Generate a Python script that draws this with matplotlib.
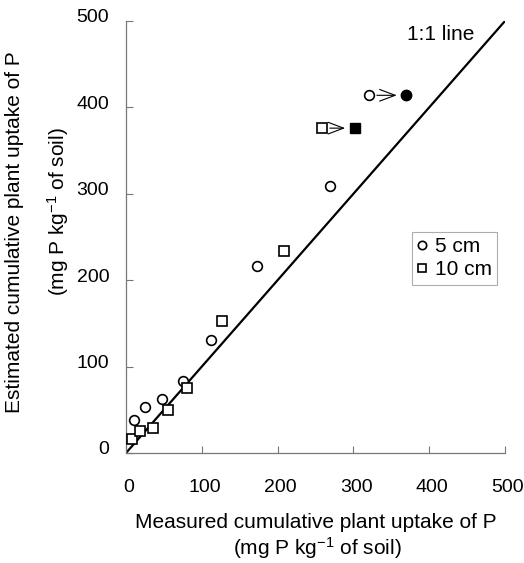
import matplotlib
matplotlib.use("Agg")
import matplotlib.pyplot as plt
from matplotlib.transforms import ScaledTranslation

plt.rcParams.update({
    "font.family": ["Liberation Sans", "DejaVu Sans"],
    "font.size": 14,
    "mathtext.fontset": "custom",
    "mathtext.rm": "Liberation Sans",
    "mathtext.default": "regular",
})

# data
cm5_x = [10, 25, 48, 75, 112, 173, 269, 320]
cm5_y = [38, 53, 63, 83, 131, 217, 309, 414]
cm10_x = [8, 19, 35, 55, 81, 126, 208, 258]
cm10_y = [16, 26, 29, 50, 75, 153, 234, 376]
cm5_moved = (370, 414)
cm10_moved = (302, 376)
one_to_one = [0, 500]
ticks = [0, 100, 200, 300, 400, 500]

W, H = 524, 563
fig = plt.figure(figsize=(W / 100, H / 100), dpi=100)
ax = fig.add_axes([126 / W, 1 - 453 / H, (505 - 126) / W, (453 - 21) / H])

ax.plot(one_to_one, one_to_one, color="black", linewidth=1.6, zorder=2)

ax.plot(cm5_x, cm5_y, linestyle="none", marker="o", markersize=7,
        markerfacecolor="white", markeredgecolor="black", markeredgewidth=1.2,
        label="5 cm", zorder=3)
ax.plot(cm10_x, cm10_y, linestyle="none", marker="s", markersize=7,
        markerfacecolor="white", markeredgecolor="black", markeredgewidth=1.2,
        label="10 cm", zorder=3)

ax.plot(*cm5_moved, marker="o", markersize=7.5, color="black", zorder=3)
ax.plot(*cm10_moved, marker="s", markersize=7, color="black", zorder=3)

# arrows from the open point to the filled one
for start, end in [((cm5_x[-1], cm5_y[-1]), cm5_moved),
                   ((cm10_x[-1], cm10_y[-1]), cm10_moved)]:
    ax.annotate("", xy=end, xytext=start,
                arrowprops=dict(arrowstyle="->,head_length=0.8,head_width=0.3",
                                color="black", linewidth=0.8,
                                shrinkA=6, shrinkB=7))

ax.text(415, 484, "1:1 line", ha="center", va="center", fontsize=15)

leg = ax.legend(loc="upper left", bbox_to_anchor=((412 - 126) / 379, (453 - 232) / 432),
                frameon=True, fancybox=False, edgecolor="#999999", fontsize=15,
                handlelength=0.5, handletextpad=0.35, borderpad=0.25,
                labelspacing=0.2, borderaxespad=0)
leg.get_frame().set_linewidth(0.8)
for h in leg.legend_handles:
    h.set_markersize(6)

ax.set_xlim(0, 500)
ax.set_ylim(0, 500)
ax.set_xticks(ticks)
ax.set_yticks(ticks)
ax.tick_params(direction="in", length=5, width=0.8, color="#777777", labelsize=14)
ax.tick_params(axis="x", pad=19)
ax.tick_params(axis="y", pad=12)
for lab in ax.get_yticklabels():
    lab.set_transform(lab.get_transform() + ScaledTranslation(0, 0.05, fig.dpi_scale_trans))
for lab in ax.get_xticklabels():
    lab.set_transform(lab.get_transform() + ScaledTranslation(0.03, 0, fig.dpi_scale_trans))
for side in ["top", "right"]:
    ax.spines[side].set_visible(False)
for side in ["left", "bottom"]:
    ax.spines[side].set_color("#777777")
    ax.spines[side].set_linewidth(0.9)

# axis titles placed as two lines each
fig.text(316 / W, 1 - 523 / H, "Measured cumulative plant uptake of P",
         ha="center", va="center", fontsize=15)
fig.text(317 / W, 1 - 548 / H, "(mg P kg$^{-1}$ of soil)",
         ha="center", va="center", fontsize=15)
fig.text(15 / W, 1 - 232 / H, "Estimated cumulative plant uptake of P",
         ha="center", va="center", rotation=90, fontsize=15)
fig.text(58 / W, 1 - 212 / H, "(mg P kg$^{-1}$ of soil)",
         ha="center", va="center", rotation=90, fontsize=15)

fig.savefig("out.png", dpi=100)
